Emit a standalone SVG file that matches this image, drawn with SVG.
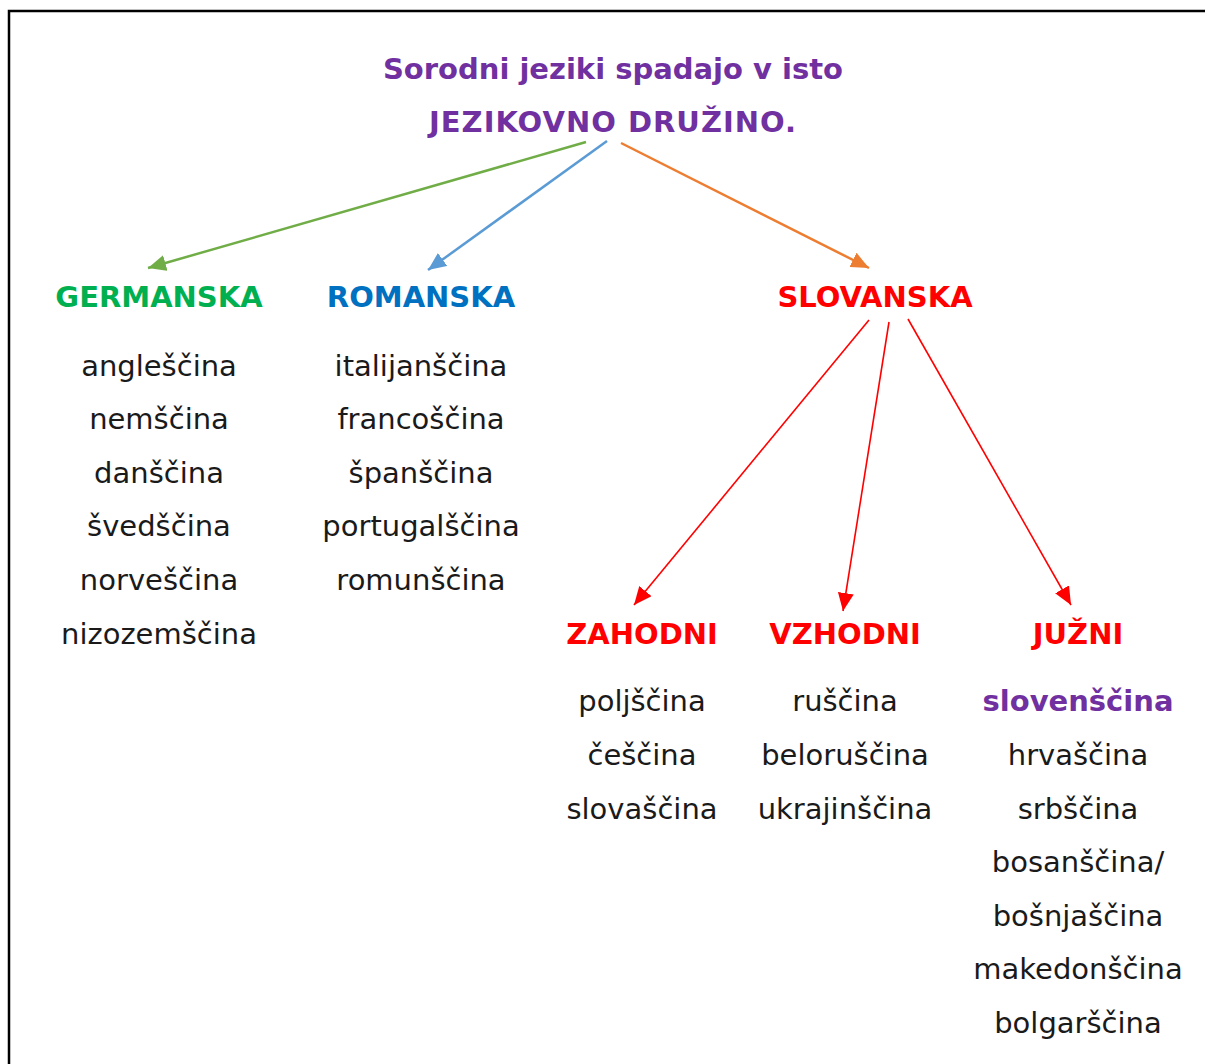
<svg xmlns="http://www.w3.org/2000/svg" width="1205" height="1064" viewBox="0 0 1205 1064">
<style>
text{font-family:"DejaVu Sans","Liberation Sans",sans-serif;text-anchor:middle}
.t{font-size:29px;font-weight:bold;fill:#7030A0}
.h{font-size:29px;font-weight:bold}
.b{font-size:29px;fill:#1a1a1a}
.c{fill:none}
</style>
<defs>
<marker id="mg" markerUnits="userSpaceOnUse" markerWidth="20" markerHeight="16" refX="18" refY="8" orient="auto"><path d="M0,0 L18,8 L0,16 Z" fill="#70AD47"/></marker>
<marker id="mb" markerUnits="userSpaceOnUse" markerWidth="20" markerHeight="16" refX="18" refY="8" orient="auto"><path d="M0,0 L18,8 L0,16 Z" fill="#5B9BD5"/></marker>
<marker id="mo" markerUnits="userSpaceOnUse" markerWidth="20" markerHeight="16" refX="18" refY="8" orient="auto"><path d="M0,0 L18,8 L0,16 Z" fill="#ED7D31"/></marker>
<marker id="mr" markerUnits="userSpaceOnUse" markerWidth="20" markerHeight="16" refX="18" refY="8" orient="auto"><path d="M0,0 L18,8 L0,16 Z" fill="#FF0000"/></marker>
</defs>
<rect x="0" y="0" width="1205" height="1064" fill="#fff"/>
<rect x="9" y="11" width="1220" height="1080" fill="none" stroke="#000" stroke-width="2.5"/>
<g id="title">
<text class="t" x="613" y="79">Sorodni jeziki spadajo v isto</text>
<text class="t" x="613" y="132" letter-spacing="1">JEZIKOVNO DRUŽINO.</text>
</g>
<g id="connectors" class="c">
<line x1="586" y1="142" x2="148" y2="268" stroke="#70AD47" stroke-width="2.5" marker-end="url(#mg)"/>
<line x1="607" y1="141" x2="428" y2="270" stroke="#5B9BD5" stroke-width="2.5" marker-end="url(#mb)"/>
<line x1="621" y1="143" x2="869" y2="268" stroke="#ED7D31" stroke-width="2.5" marker-end="url(#mo)"/>
<line x1="869" y1="320" x2="634" y2="605" stroke="#FF0000" stroke-width="1.6" marker-end="url(#mr)"/>
<line x1="889" y1="322" x2="843" y2="611" stroke="#FF0000" stroke-width="1.6" marker-end="url(#mr)"/>
<line x1="908" y1="319" x2="1071" y2="605" stroke="#FF0000" stroke-width="1.6" marker-end="url(#mr)"/>
</g>
<g id="germanska">
<text class="h" x="159" y="307" fill="#00B050">GERMANSKA</text>
<text class="b" x="159" y="376">angleščina</text>
<text class="b" x="159" y="429">nemščina</text>
<text class="b" x="159" y="483">danščina</text>
<text class="b" x="159" y="536">švedščina</text>
<text class="b" x="159" y="590">norveščina</text>
<text class="b" x="159" y="644">nizozemščina</text>
</g>
<g id="romanska">
<text class="h" x="421" y="307" fill="#0070C0">ROMANSKA</text>
<text class="b" x="421" y="376">italijanščina</text>
<text class="b" x="421" y="429">francoščina</text>
<text class="b" x="421" y="483">španščina</text>
<text class="b" x="421" y="536">portugalščina</text>
<text class="b" x="421" y="590">romunščina</text>
</g>
<g id="slovanska">
<text class="h" x="875" y="307" fill="#FF0000">SLOVANSKA</text>
</g>
<g id="zahodni">
<text class="h" x="642" y="644" fill="#FF0000">ZAHODNI</text>
<text class="b" x="642" y="711">poljščina</text>
<text class="b" x="642" y="765">češčina</text>
<text class="b" x="642" y="819">slovaščina</text>
</g>
<g id="vzhodni">
<text class="h" x="845" y="644" fill="#FF0000">VZHODNI</text>
<text class="b" x="845" y="711">ruščina</text>
<text class="b" x="845" y="765">beloruščina</text>
<text class="b" x="845" y="819">ukrajinščina</text>
</g>
<g id="juzni">
<text class="h" x="1078" y="644" fill="#FF0000">JUŽNI</text>
<text class="b" x="1078" y="711" font-weight="bold" style="fill:#7030A0">slovenščina</text>
<text class="b" x="1078" y="765">hrvaščina</text>
<text class="b" x="1078" y="819">srbščina</text>
<text class="b" x="1078" y="872">bosanščina/</text>
<text class="b" x="1078" y="926">bošnjaščina</text>
<text class="b" x="1078" y="979">makedonščina</text>
<text class="b" x="1078" y="1033">bolgarščina</text>
</g>
</svg>
